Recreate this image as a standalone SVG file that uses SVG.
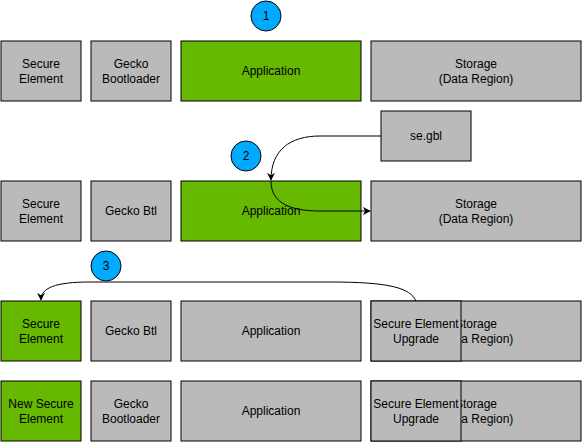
<svg xmlns="http://www.w3.org/2000/svg" width="583" height="443" viewBox="0 0 583 443">
<defs>
<style>
.g{fill:#BABABA;stroke:#000;stroke-width:1}
.gr{fill:#66B800;stroke:#000;stroke-width:1}
.c{fill:#00AAFF;stroke:#000;stroke-width:1}
text{font-family:"Liberation Sans",Arial,sans-serif;font-size:12px;fill:#000;text-anchor:middle}
.e{fill:none;stroke:#000;stroke-width:1}
</style>
<marker id="a" viewBox="0 0 10 10" refX="9" refY="5" markerWidth="8" markerHeight="8" markerUnits="userSpaceOnUse" orient="auto">
<path d="M0,0 L10,5 L0,10 L3,5 Z" fill="#000"/>
</marker>
<clipPath id="sc3"><rect x="461" y="301" width="120" height="60"/></clipPath>
<clipPath id="sc4"><rect x="461" y="381" width="120" height="60"/></clipPath>
</defs>
<rect width="583" height="443" fill="#fff"/>

<g id="step1"><circle class="c" cx="266" cy="16" r="15"/><text x="266" y="20">1</text></g>
<g id="step2"><circle class="c" cx="246" cy="156" r="15"/><text x="246" y="160">2</text></g>
<g id="step3"><circle class="c" cx="106" cy="266" r="15"/><text x="106" y="270">3</text></g>

<g id="r1-se"><rect class="g" x="1" y="41" width="80" height="60"/><text x="41" y="68">Secure</text><text x="41" y="83">Element</text></g>
<g id="r1-gb"><rect class="g" x="91" y="41" width="80" height="60"/><text x="131" y="68">Gecko</text><text x="131" y="83">Bootloader</text></g>
<g id="r1-app"><rect class="gr" x="181" y="41" width="180" height="60"/><text x="271" y="75">Application</text></g>
<g id="r1-st"><rect class="g" x="371" y="41" width="210" height="60"/><text x="476" y="68">Storage</text><text x="476" y="83">(Data Region)</text></g>

<g id="segbl"><rect class="g" x="381" y="111" width="90" height="50"/><text x="426" y="140">se.gbl</text></g>

<g id="r2-se"><rect class="g" x="1" y="181" width="80" height="60"/><text x="41" y="208">Secure</text><text x="41" y="223">Element</text></g>
<g id="r2-gb"><rect class="g" x="91" y="181" width="80" height="60"/><text x="131" y="215">Gecko Btl</text></g>
<g id="r2-app"><rect class="gr" x="181" y="181" width="180" height="60"/><text x="271" y="215">Application</text></g>
<g id="r2-st"><rect class="g" x="371" y="181" width="210" height="60"/><text x="476" y="208">Storage</text><text x="476" y="223">(Data Region)</text></g>

<g id="r3-se"><rect class="gr" x="1" y="301" width="80" height="60"/><text x="41" y="328">Secure</text><text x="41" y="343">Element</text></g>
<g id="r3-gb"><rect class="g" x="91" y="301" width="80" height="60"/><text x="131" y="335">Gecko Btl</text></g>
<g id="r3-app"><rect class="g" x="181" y="301" width="180" height="60"/><text x="271" y="335">Application</text></g>
<g id="r3-st"><rect class="g" x="371" y="301" width="210" height="60"/><g clip-path="url(#sc3)"><text x="476" y="328">Storage</text><text x="476" y="343">(Data Region)</text></g></g>
<g id="r3-seu"><rect class="g" x="371" y="301" width="90" height="60"/><text x="416" y="328">Secure Element</text><text x="416" y="343">Upgrade</text></g>

<g id="r4-se"><rect class="gr" x="1" y="381" width="80" height="60"/><text x="41" y="408">New Secure</text><text x="41" y="423">Element</text></g>
<g id="r4-gb"><rect class="g" x="91" y="381" width="80" height="60"/><text x="131" y="408">Gecko</text><text x="131" y="423">Bootloader</text></g>
<g id="r4-app"><rect class="g" x="181" y="381" width="180" height="60"/><text x="271" y="415">Application</text></g>
<g id="r4-st"><rect class="g" x="371" y="381" width="210" height="60"/><g clip-path="url(#sc4)"><text x="476" y="408">Storage</text><text x="476" y="423">(Data Region)</text></g></g>
<g id="r4-seu"><rect class="g" x="371" y="381" width="90" height="60"/><text x="416" y="408">Secure Element</text><text x="416" y="423">Upgrade</text></g>

<g id="connectors">
<path class="e" d="M381,136 L320,136 C290,136 271,150 271,180" marker-end="url(#a)"/>
<path class="e" d="M271,181 C271,200 285,211 320,211 L370,211" marker-end="url(#a)"/>
<path class="e" d="M416,301 C410,288 390,282 330,282 L90,282 C55,282 41,288 41,300" marker-end="url(#a)"/>
</g>
</svg>
